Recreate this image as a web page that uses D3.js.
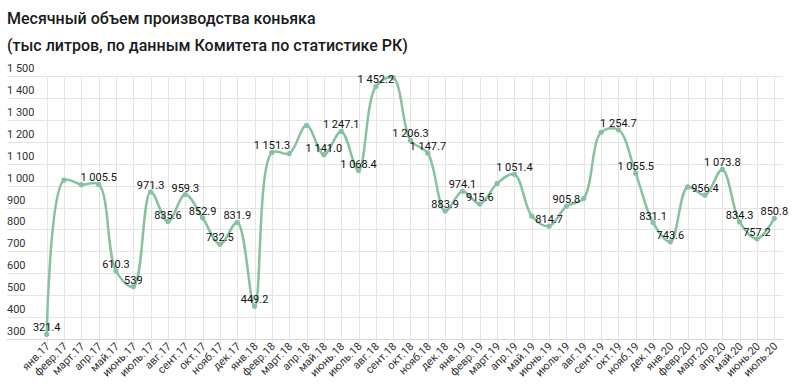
<!DOCTYPE html>
<html>
<head>
<meta charset="utf-8">
<script src="https://cdn.jsdelivr.net/npm/d3@7"></script>
<style>
  body { margin: 0; background: #fff; }
  svg { display: block; font-family: Roboto, "Noto Sans", sans-serif; }
</style>
</head>
<body>
<div id="chart"></div>
<script>
// data
const months = [
  "янв.17", "февр.17", "март.17", "апр.17", "май.17", "июнь.17", "июль.17", "авг.17", "сент.17", "окт.17", "нояб.17", "дек.17",
  "янв.18", "февр.18", "март.18", "апр.18", "май.18", "июнь.18", "июль.18", "авг.18", "сент.18", "окт.18", "нояб.18", "дек.18",
  "янв.19", "февр.19", "март.19", "апр.19", "май.19", "июнь.19", "июль.19", "авг.19", "сент.19", "окт.19", "нояб.19", "дек.19",
  "янв.20", "февр.20", "март.20", "апр.20", "май.20", "июнь.20", "июль.20"
];
const volumes = [
  321.4, 1025, 1004, 1005.5, 610.3, 539, 971.3, 835.6, 959.3, 852.9, 732.5, 831.9,
  449.2, 1151.3, 1146, 1275, 1141.0, 1247.1, 1068.4, 1452.2, 1492, 1206.3, 1147.7, 883.9,
  974.1, 915.6, 1010, 1051.4, 861, 814.7, 905.8, 942, 1243, 1254.7, 1055.5, 831.1,
  743.6, 994, 956.4, 1073.8, 834.3, 757.2, 850.8
];
// labels shown on the chart (null = no label)
const pointLabels = [
  "321.4", null, null, "1 005.5", "610.3", "539", "971.3", "835.6", "959.3", "852.9", "732.5", "831.9",
  "449.2", "1 151.3", null, null, "1 141.0", "1 247.1", "1 068.4", "1 452.2", null, "1 206.3", "1 147.7", "883.9",
  "974.1", "915.6", null, "1 051.4", null, "814.7", "905.8", null, null, "1 254.7", "1 055.5", "831.1",
  "743.6", null, "956.4", "1 073.8", "834.3", "757.2", "850.8"
];
const yTicks = [300, 400, 500, 600, 700, 800, 900, 1000, 1100, 1200, 1300, 1400, 1500];
const titleLines = [
  "Месячный объем производства коньяка",
  "(тыс литров, по данным Комитета по статистике РК)"
];

const W = 800, H = 389;
const lineColor = "#86c29f";

const svg = d3.select("#chart").append("svg")
    .attr("width", W)
    .attr("height", H);

const data = months.map((m, i) => ({ month: m, value: volumes[i], label: pointLabels[i] }));

// scales
const xScale = d3.scalePoint()
    .domain(months)
    .range([46.7, 774.3]);

const yScale = d3.scaleLinear()
    .domain([300, 1500])
    .range([339, 76]);

const fmt = v => d3.format(",")(v).replace(/,/g, " ");

// title
svg.selectAll(".title")
    .data(titleLines)
    .join("text")
    .attr("x", 7)
    .attr("y", (d, i) => 24 + i * 27)
    .style("font-size", "16px")
    .style("font-weight", 500)
    .style("fill", "#1a1a1a")
    .text(d => d);

// grid
const grid = svg.append("g");
grid.selectAll(".hgrid")
    .data(yTicks)
    .join("line")
    .attr("x1", 7)
    .attr("x2", 783)
    .attr("y1", d => Math.round(yScale(d)) + 0.5)
    .attr("y2", d => Math.round(yScale(d)) + 0.5)
    .attr("stroke", d => d === 300 ? "#d6d6d6" : "#e4e4e4")
    .attr("stroke-width", 1);

grid.selectAll(".vgrid")
    .data(months)
    .join("line")
    .attr("x1", d => Math.round(xScale(d)) + 0.5)
    .attr("x2", d => Math.round(xScale(d)) + 0.5)
    .attr("y1", 76)
    .attr("y2", 344)
    .attr("stroke", "#e4e4e4")
    .attr("stroke-width", 1);

// y labels (sit above their grid line)
svg.selectAll(".ylab")
    .data(yTicks)
    .join("text")
    .attr("x", 7)
    .attr("y", d => yScale(d) - 4)
    .style("font-size", "11px")
    .style("fill", "#333")
    .text(d => fmt(d));

// x labels
svg.selectAll(".xlab")
    .data(months)
    .join("text")
    .attr("transform", d => `translate(${xScale(d) + 4},${347}) rotate(-45)`)
    .attr("text-anchor", "end")
    .style("font-size", "11px")
    .style("fill", "#333")
    .text(d => d);

// line
const line = d3.line()
    .x(d => xScale(d.month))
    .y(d => yScale(d.value))
    .curve(d3.curveCatmullRom.alpha(0.5));

svg.append("path")
    .datum(data)
    .attr("fill", "none")
    .attr("stroke", lineColor)
    .attr("stroke-width", 2.5)
    .attr("d", line);

svg.selectAll(".dot")
    .data(data)
    .join("circle")
    .attr("cx", d => xScale(d.month))
    .attr("cy", d => yScale(d.value))
    .attr("r", 2.6)
    .attr("fill", lineColor);

// value labels
svg.selectAll(".vlab")
    .data(data.filter(d => d.label))
    .join("text")
    .attr("x", d => xScale(d.month))
    .attr("y", d => yScale(d.value) - 3)
    .attr("text-anchor", "middle")
    .style("font-size", "11px")
    .style("fill", "#111")
    .text(d => d.label);
</script>
</body>
</html>
